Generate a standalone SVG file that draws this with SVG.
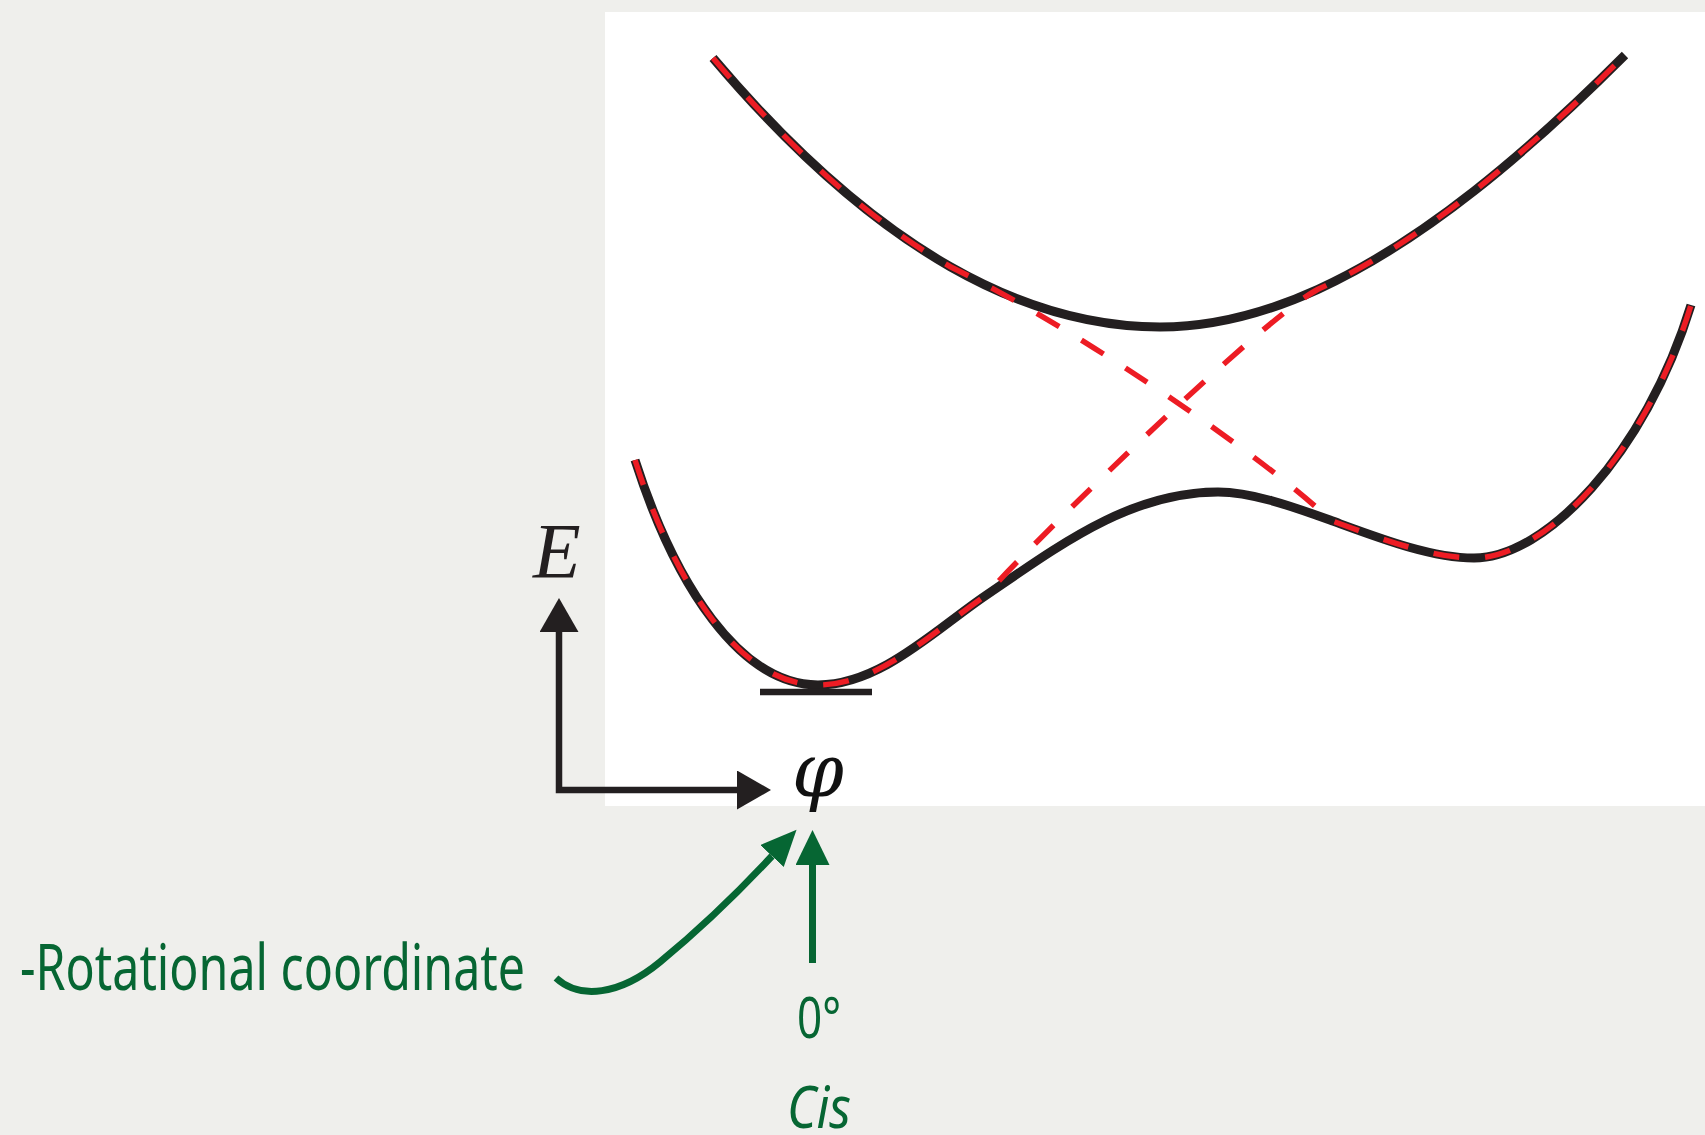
<svg xmlns="http://www.w3.org/2000/svg" width="1705" height="1135" viewBox="0 0 1705 1135">
<style>
.bk{fill:none;stroke:#231f20;stroke-width:9;stroke-linecap:butt;stroke-linejoin:round}
.rd{fill:none;stroke:#ed1c24;stroke-width:5.5;stroke-dasharray:26 26}
.ax{fill:none;stroke:#231f20;stroke-width:6.5;stroke-linejoin:miter}
.gr{fill:none;stroke:#066633;stroke-width:7}
.gt{fill:#066633;font-family:"Noto Sans","Open Sans",sans-serif}
</style>
<defs>
<marker id="ah" markerUnits="userSpaceOnUse" markerWidth="36" markerHeight="40" refX="0" refY="19.5" orient="auto-start-reverse" viewBox="0 0 36 40"><path d="M0,0 L34,19.5 L0,39 z" fill="#231f20"/></marker>
<marker id="gh" markerUnits="userSpaceOnUse" markerWidth="38" markerHeight="34" refX="0" refY="16" orient="auto" viewBox="0 0 38 34"><path d="M0,0 L36,16 L0,32 z" fill="#066633"/></marker>
<marker id="gv" markerUnits="userSpaceOnUse" markerWidth="37" markerHeight="36" refX="0" refY="17" orient="auto" viewBox="0 0 37 36"><path d="M0,0 L35,17 L0,34 z" fill="#066633"/></marker>
</defs>
<rect width="1705" height="1135" fill="#efefec"/>
<rect x="605" y="12" width="1100" height="794" fill="#ffffff"/>
<g id="curves">
<path id="upper" class="bk" d="M713,58 C788.35,147.1 867.63,219.56 950.34,266.72 C1018.03,305.32 1088,327 1160,327 C1212.8,327 1265.6,313.2 1318,289.3 C1423.9,240.9 1527.85,152.15 1625,55"/>
<path id="lower" class="bk" d="M635,460 C675,585 740,685 818,685 C880,685 935,630 985,596 C1060,545 1130,492 1218,492 C1250.4,492 1289.66,505.37 1329.97,520.1 C1379.24,538.04 1430.55,558 1474,558 C1545,558 1645,455 1691,305"/>
<path id="base" d="M760,692 H872" stroke="#231f20" stroke-width="6.5" fill="none"/>
<path id="diabA" class="rd" d="M635,460 C675,585 740,685 818,685 C880,685 935,630 985,596 C1030,545 1260,320 1318,289.3 C1423.9,240.9 1527.85,152.15 1625,55"/>
<path id="diabB" class="rd" d="M713,58 C788.35,147.1 867.63,219.56 950.34,266.72 C1090,335 1280,470 1329.97,520.1 C1379.24,538.04 1430.55,558 1474,558 C1545,558 1645,455 1691,305"/>
</g>
<g id="axes">
<polyline class="ax" points="559,632 559,790 737,790" marker-start="url(#ah)" marker-end="url(#ah)"/>
</g>
<g id="label-E"><text x="533" y="577" font-family="'Liberation Serif',serif" font-style="italic" font-size="78" fill="#231f20">E</text></g>
<g id="label-phi"><text x="792" y="796" font-family="'DejaVu Serif',serif" font-style="italic" font-size="74" fill="#111">φ</text></g>
<g id="connectors">
<path class="gr" d="M556,978 C580,1000 620,995 660,962 C705,925 745,885 772,856" marker-end="url(#gh)"/>
<line class="gr" x1="812.5" y1="963" x2="812.5" y2="865" marker-end="url(#gv)"/>
</g>
<g id="label-rot"><text class="gt" x="20" y="990" font-size="64" textLength="505" lengthAdjust="spacingAndGlyphs">-Rotational coordinate</text></g>
<g id="label-0"><text class="gt" x="797" y="1038" font-size="56" textLength="44" lengthAdjust="spacingAndGlyphs">0°</text></g>
<g id="label-cis"><text class="gt" x="787" y="1128" font-size="58" font-style="italic" textLength="64" lengthAdjust="spacingAndGlyphs">Cis</text></g>
</svg>
